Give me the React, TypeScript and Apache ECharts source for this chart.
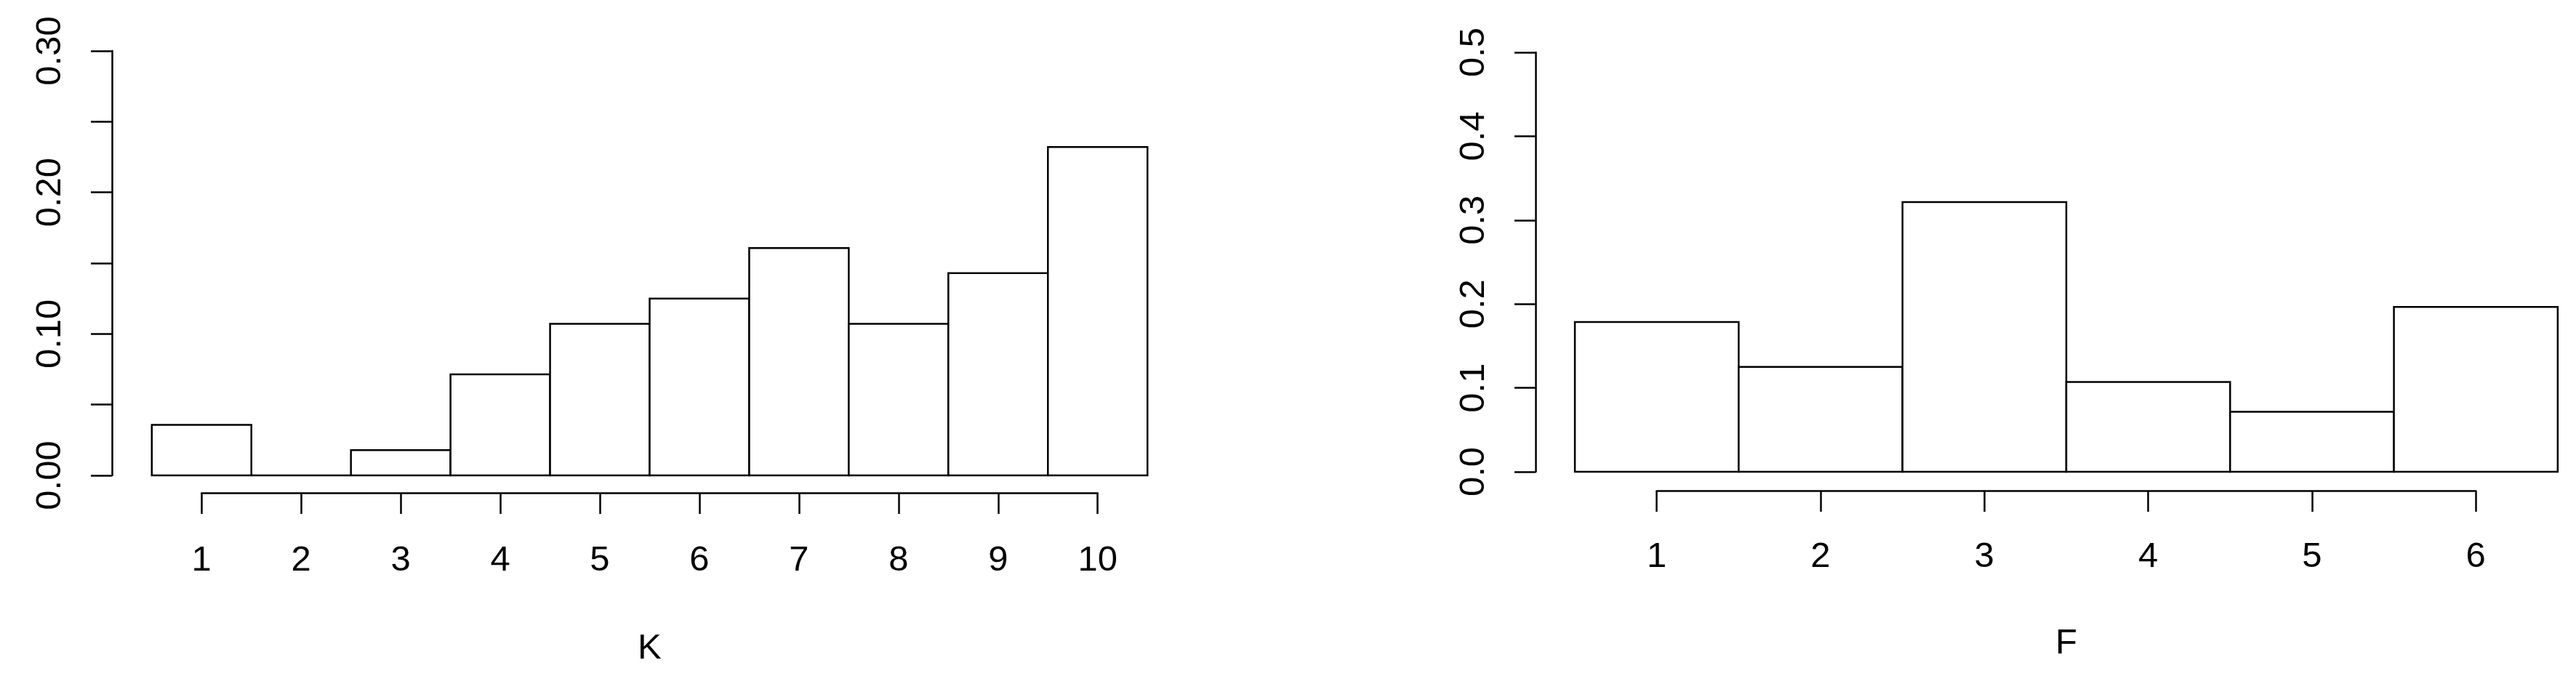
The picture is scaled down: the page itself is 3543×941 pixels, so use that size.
import React, { useEffect, useRef } from "react";
import * as echarts from "echarts";

// K histogram (density), bins centred on integers 1..10
const kBins = [1, 2, 3, 4, 5, 6, 7, 8, 9, 10];
const kDensity = [0.0357, 0, 0.0179, 0.0714, 0.1071, 0.125, 0.1607, 0.1071, 0.1429, 0.2321];
// F histogram (density), bins centred on integers 1..6
const fBins = [1, 2, 3, 4, 5, 6];
const fDensity = [0.1786, 0.125, 0.3214, 0.1071, 0.0714, 0.1964];

const FONT = "'Liberation Sans', Arial, sans-serif";
const LW = 2.5;
const FS = 49;

function histRender(params: any, api: any) {
  const x = api.value(0);
  const y = api.value(1);
  const p0 = api.coord([x - 0.5, 0]);
  const p1 = api.coord([x + 0.5, y]);
  const h = p0[1] - p1[1];
  if (h < 0.5) {
    return {
      type: "line",
      shape: { x1: p0[0], y1: p0[1], x2: p1[0], y2: p0[1] },
      style: { stroke: "#000", lineWidth: LW },
    };
  }
  return {
    type: "rect",
    shape: { x: p0[0], y: p1[1], width: p1[0] - p0[0], height: h },
    style: { fill: "#fff", stroke: "#000", lineWidth: LW },
  };
}

export default function App() {
  const ref = useRef<HTMLDivElement>(null);
  useEffect(() => {
    if (!ref.current) return;
    const chart = echarts.init(ref.current, undefined, { renderer: "svg" });
    const axisLine = { show: true, lineStyle: { color: "#000", width: LW } };
    const axisTick = { show: true, inside: false, length: 29, lineStyle: { color: "#000", width: LW } };
    const yLabel = (fmt: (v: number) => string) => ({
      show: true,
      rotate: 90,
      margin: 64,
      color: "#000",
      fontSize: FS,
      fontFamily: FONT,
      formatter: fmt,
    });
    const xLabel = (margin: number) => ({
      show: true,
      margin,
      color: "#000",
      fontSize: FS,
      fontFamily: FONT,
    });
    const nameStyle = { color: "#000", fontSize: FS, fontFamily: FONT };

    chart.setOption({
      animation: false,
      backgroundColor: "#fff",
      grid: [
        { left: 154, top: 70, width: 1479, height: 584 },
        { left: 277.2, top: 600, width: 1232.5, height: 78 },
        { left: 2112, top: 72, width: 1428.4, height: 577 },
        { left: 2278.6, top: 600, width: 1126.5, height: 75 },
      ],
      xAxis: [
        { type: "value", gridIndex: 0, min: 0.1, max: 10.9, show: false },
        {
          type: "value",
          gridIndex: 1,
          min: 1,
          max: 10,
          interval: 1,
          axisLine,
          axisTick,
          splitLine: { show: false },
          axisLabel: xLabel(65),
          name: "K",
          nameLocation: "middle",
          nameGap: 186,
          nameTextStyle: nameStyle,
        },
        { type: "value", gridIndex: 2, min: 0.26, max: 6.6, show: false },
        {
          type: "value",
          gridIndex: 3,
          min: 1,
          max: 6,
          interval: 1,
          axisLine,
          axisTick,
          splitLine: { show: false },
          axisLabel: xLabel(63),
          name: "F",
          nameLocation: "middle",
          nameGap: 182,
          nameTextStyle: nameStyle,
        },
      ],
      yAxis: [
        {
          type: "value",
          gridIndex: 0,
          min: 0,
          max: 0.3,
          interval: 0.05,
          axisLine,
          axisTick,
          splitLine: { show: false },
          axisLabel: yLabel((v: number) =>
            Math.round(v * 100) % 10 === 0 ? v.toFixed(2) : ""
          ),
        },
        { type: "value", gridIndex: 1, min: 0, max: 1, show: false },
        {
          type: "value",
          gridIndex: 2,
          min: 0,
          max: 0.5,
          interval: 0.1,
          axisLine,
          axisTick,
          splitLine: { show: false },
          axisLabel: yLabel((v: number) => v.toFixed(1)),
        },
        { type: "value", gridIndex: 3, min: 0, max: 1, show: false },
      ],
      series: [
        {
          type: "custom",
          xAxisIndex: 0,
          yAxisIndex: 0,
          renderItem: histRender,
          data: kBins.map((b, i) => [b, kDensity[i]]),
        },
        {
          type: "custom",
          xAxisIndex: 2,
          yAxisIndex: 2,
          renderItem: histRender,
          data: fBins.map((b, i) => [b, fDensity[i]]),
        },
      ],
    });
    return () => chart.dispose();
  }, []);
  return (
    <div
      ref={ref}
      style={{ position: "absolute", left: 0, top: 0, width: 3543, height: 941, background: "#fff" }}
    />
  );
}
